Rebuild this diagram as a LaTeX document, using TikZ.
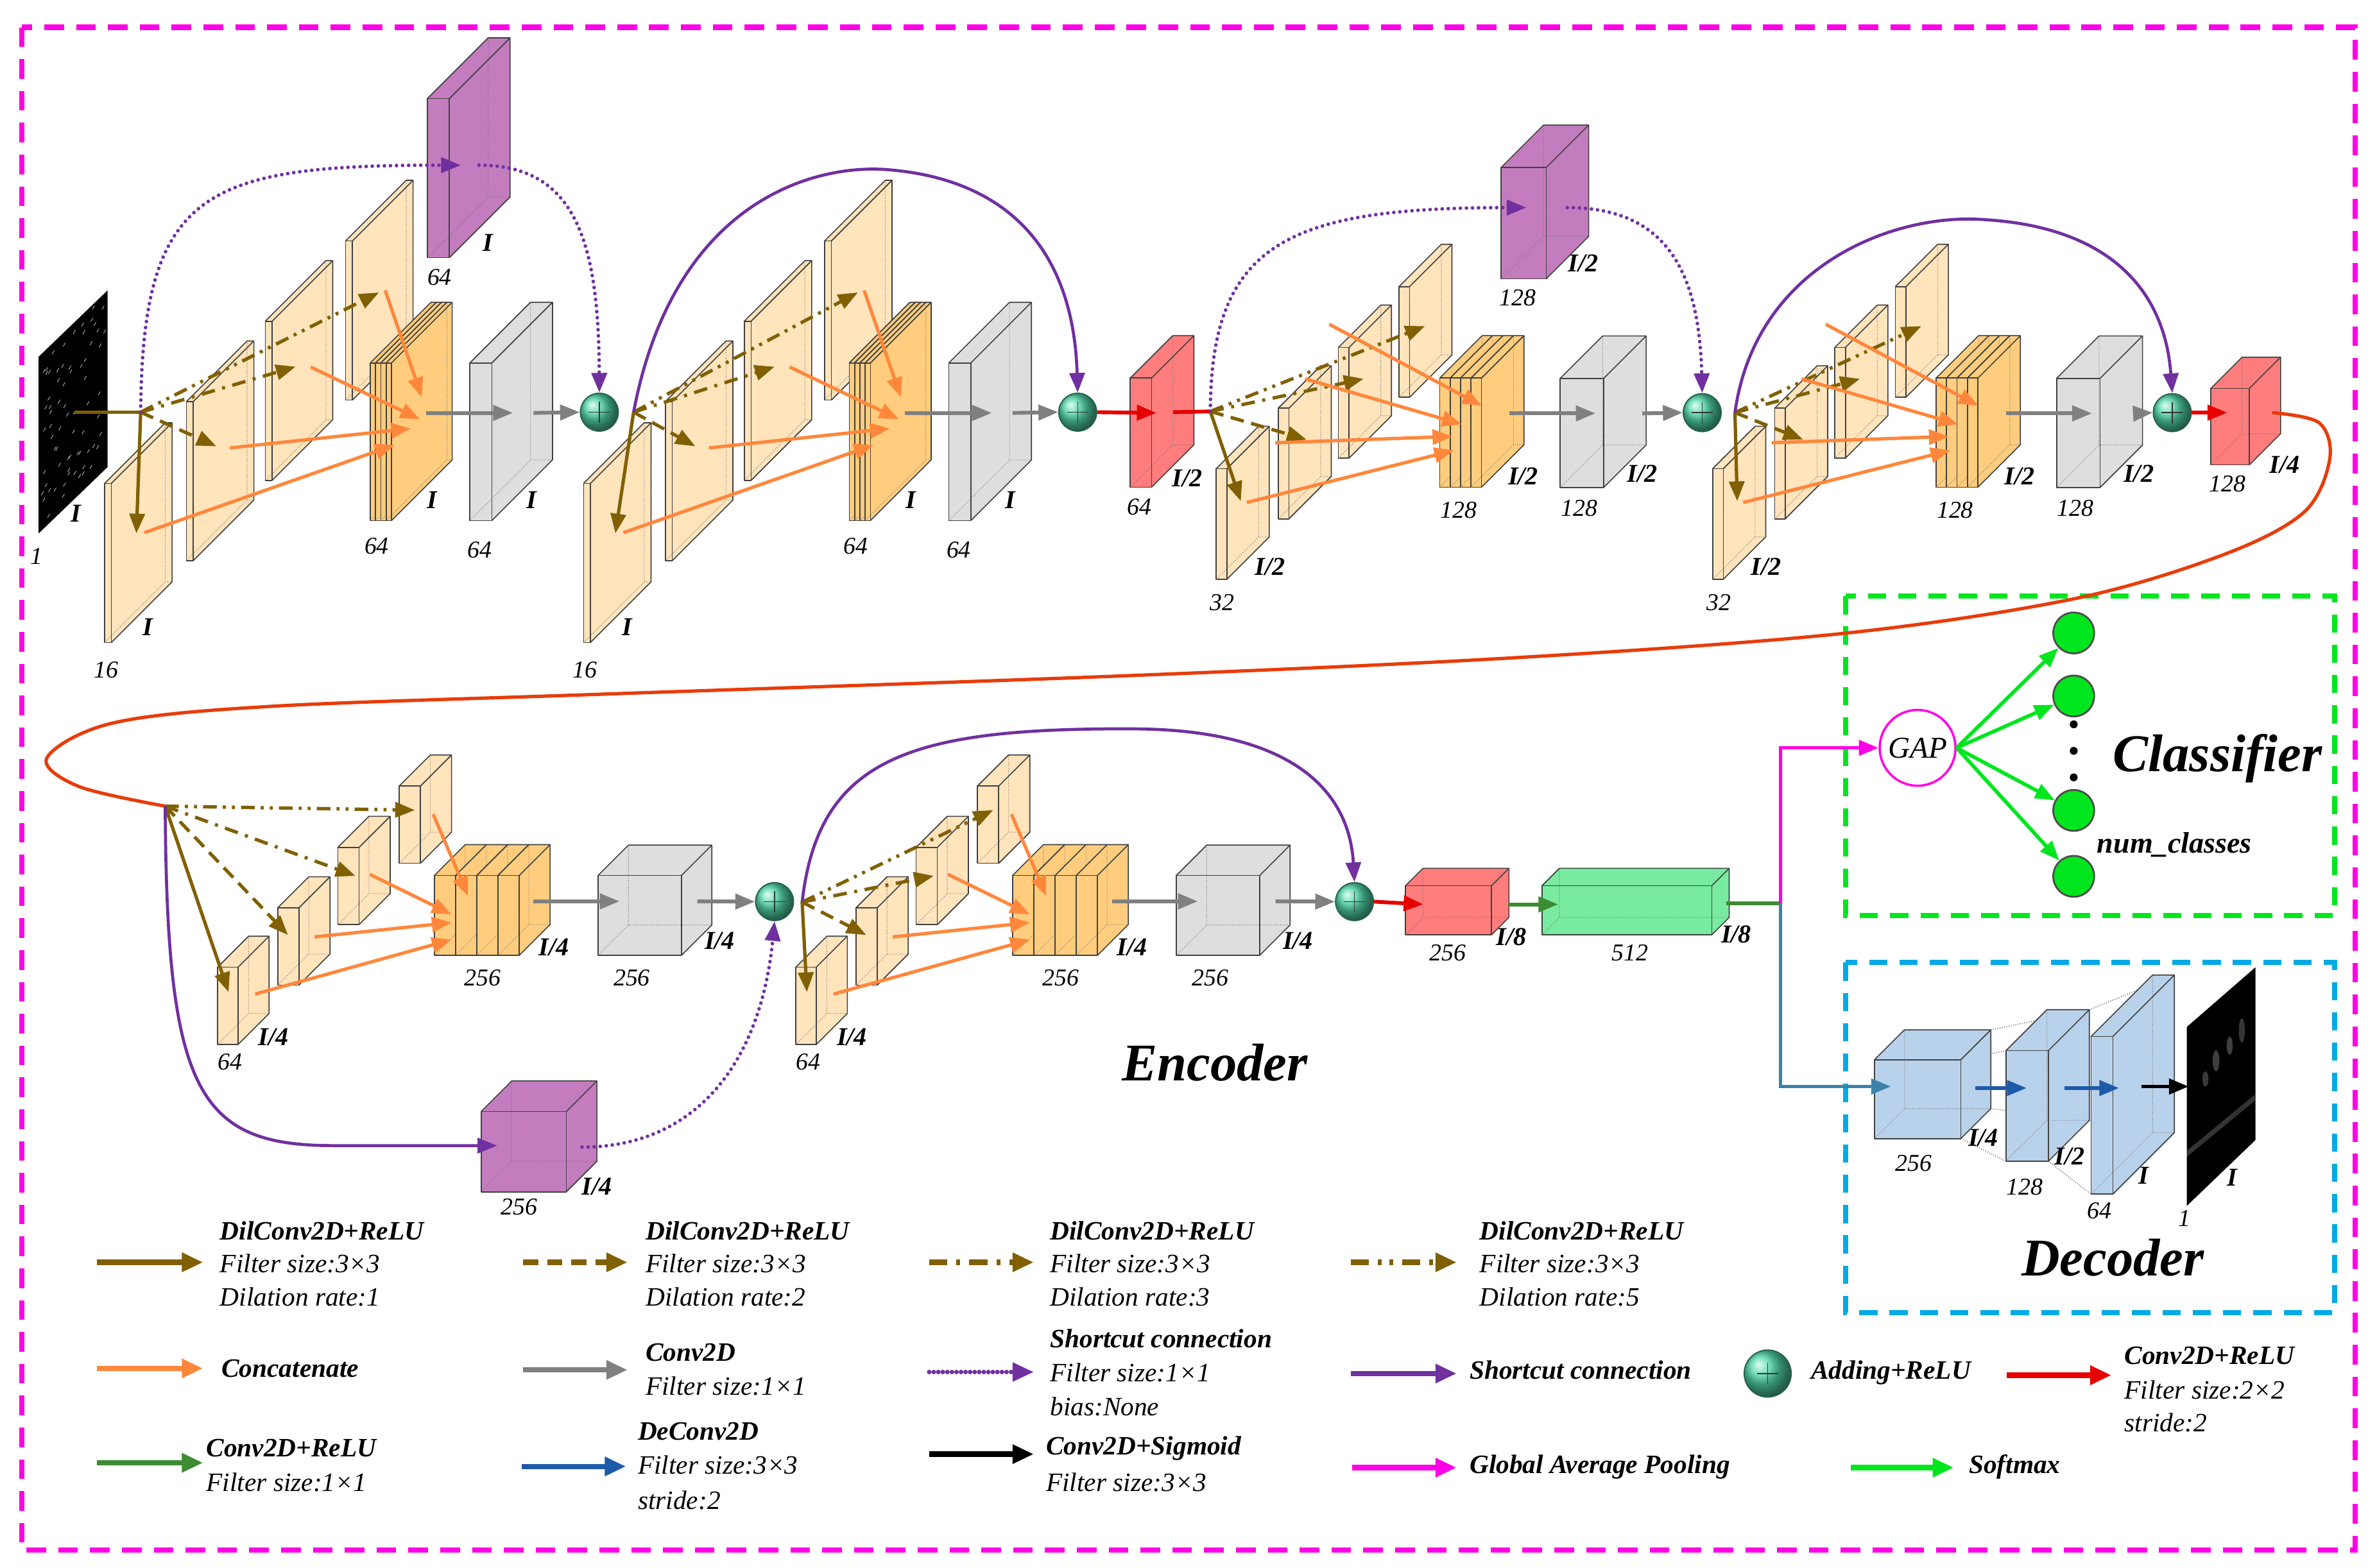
\documentclass[tikz,border=0pt]{standalone}
\usepackage{fontspec}
\setmainfont{Liberation Serif}
\usetikzlibrary{arrows.meta,shapes.geometric}
\definecolor{cOlive}{RGB}{128,96,0}
\definecolor{cOrange}{RGB}{255,135,60}
\definecolor{cGray}{RGB}{128,128,128}
\definecolor{cPurple}{RGB}{112,48,160}
\definecolor{cRed}{RGB}{230,0,0}
\definecolor{cRedLine}{RGB}{232,60,10}
\definecolor{cDGreen}{RGB}{60,140,50}
\definecolor{cBlue}{RGB}{30,90,170}
\definecolor{cSteel}{RGB}{60,130,170}
\definecolor{cMag}{RGB}{255,0,230}
\definecolor{cBGreen}{RGB}{0,230,30}
\definecolor{cCyan}{RGB}{0,170,230}
\definecolor{fSlab}{RGB}{255,228,188}
\definecolor{fConcat}{RGB}{255,205,125}
\definecolor{fGray}{RGB}{222,222,222}
\definecolor{fRed}{RGB}{255,125,125}
\definecolor{fPurple}{RGB}{195,125,190}
\definecolor{fGreen}{RGB}{120,235,160}
\definecolor{fBlue}{RGB}{185,210,235}
\definecolor{cTeal}{RGB}{80,215,170}
\tikzset{
 bxedge/.style={draw=black!75, line width=0.7pt, line join=round},
 bxhid/.style={draw=black!55, line width=0.45pt, densely dotted},
 ahd/.style={-{Triangle[length=13pt,width=10pt]}},
 ahl/.style={-{Triangle[length=14pt,width=12pt]}},
 dil1/.style={cOlive, line width=2.2pt, ahd},
 dil2/.style={dil1, dash pattern=on 9pt off 5pt},
 dil3/.style={dil1, dash pattern=on 9pt off 5pt on 2pt off 5pt},
 dil5/.style={dil1, dash pattern=on 9pt off 4pt on 2pt off 4pt on 2pt off 4pt},
 cat/.style={cOrange, line width=2.2pt, ahd},
 cvg/.style={cGray, line width=2.5pt, ahd},
 scs/.style={cPurple, line width=2pt, ahd},
 scd/.style={cPurple, line width=2.4pt, dash pattern=on 0pt off 4pt, line cap=round, ahd},
 redar/.style={cRed, line width=2.5pt, ahd},
 lbl/.style={font=\fontsize{16}{18}\selectfont\itshape, inner sep=0pt},
 lblb/.style={font=\fontsize{17}{19}\selectfont\bfseries\itshape, inner sep=0pt},
 lg/.style={font=\fontsize{17.5}{20}\selectfont\itshape, anchor=west, inner sep=0pt},
 lgb/.style={font=\fontsize{17.5}{20}\selectfont\bfseries\itshape, anchor=west, inner sep=0pt},
 ttl/.style={font=\fontsize{35}{40}\selectfont\bfseries\itshape, inner sep=0pt},
 addc/.style={circle, minimum size=25pt, inner sep=0pt, draw=black!55!cTeal, line width=0.8pt, shade, ball color=cTeal,
   path picture={\draw[black!80, line width=0.6pt] ([xshift=-7pt]path picture bounding box.center) -- ([xshift=7pt]path picture bounding box.center) ([yshift=-7pt]path picture bounding box.center) -- ([yshift=7pt]path picture bounding box.center);}},
 cls/.style={circle, minimum size=27pt, fill=cBGreen, draw=black!70, line width=1.2pt, inner sep=0pt},
 smx/.style={cBGreen, line width=2.4pt, ahd},
 proj/.style={black!70, line width=0.5pt, densely dotted},
}
% cuboid: x,y of front-bottom-left, width, height, depth, fill
\newcommand{\cuboidX}[6]{%
 \begin{scope}[shift={(#1,#2)}]
 \fill[#6] (0,0) -- (#3,0) -- ++(#5,-#5) -- ++(0,-#4) -- ++(-#3,0) -- (0,-#4) -- cycle;
 \draw[bxhid] (0,0) -- ++(#5,-#5) -- ++(#3,0) ++(-#3,0) -- ++(0,-#4);
 \draw[bxedge] (0,0) rectangle (#3,-#4);
 \draw[bxedge] (#3,0) -- ++(#5,-#5) -- ++(0,-#4) -- ++(-#3,0) -- (0,-#4);
 \draw[bxedge] (#3,-#4) -- ++(#5,-#5);
 \end{scope}}
% block of the first row (resolution I)
\newcommand{\RowOneBlock}[4]{%
 \begin{scope}[xshift=#2pt]
 \cuboidX{228}{264}{4.5}{105}{40}{fSlab}
 \cuboidX{175}{317}{4.5}{105}{40}{fSlab}
 \cuboidX{123}{370}{4.5}{105}{40}{fSlab}
 \cuboidX{69}{424}{4.5}{105}{40}{fSlab}
 \foreach \i in {0,1,2,3}{\cuboidX{244.3+3.5*\i}{343.5}{3.5}{104}{40}{fConcat}}
 \cuboidX{310}{343.5}{14.5}{104}{40}{fGray}
 \coordinate (#1s1) at (90,352);
 \coordinate (#1s2) at (142.7,294.5);
 \coordinate (#1s3) at (195,242);
 \coordinate (#1s4) at (250,193);
 \coordinate (#1o1) at (95.3,351.5); \coordinate (#1e1) at (260.4,293.6);
 \coordinate (#1o2) at (151.7,295.6); \coordinate (#1e2) at (271,282.8);
 \coordinate (#1o3) at (205,242.2); \coordinate (#1e3) at (277.1,276.7);
 \coordinate (#1o4) at (254.1,191.6); \coordinate (#1e4) at (278.3,262.1);
 \coordinate (#1g1) at (281,272.5); \coordinate (#1g2) at (338.3,272.5);
 \coordinate (#1g3) at (352,272.5);
 \node[lblb] (#1l1) at (97.7,414) {I};
 \node[lbl] (#1l2) at (70,442) {16};
 \node[lblb] (#1l3) at (285,330) {I};
 \node[lbl] (#1l4) at (248.5,360.5) {64};
 \node[lblb] (#1l5) at (350.5,330) {I};
 \node[lbl] (#1l6) at (316.5,363) {64};
 \end{scope}
 \draw[dil1] (#3) -- (#1s1);
 \draw[dil2] (#3) -- (#1s2);
 \draw[dil3] (#3) -- (#1s3);
 \draw[dil5] (#3) -- (#1s4);
 \foreach \k in {1,2,3,4}{\draw[cat] (#1o\k) -- (#1e\k);}
 \draw[cvg] (#1g1) -- (#1g2);
 \draw[cvg] (#1g3) -- (#4.west);
}
% block of the first row (resolution I/2)
\newcommand{\RowTwoBlock}[4]{%
 \begin{scope}[xshift=#2pt]
 \cuboidX{922.9}{262.2}{7}{73}{28}{fSlab}
 \cuboidX{883}{302.3}{7}{73}{28}{fSlab}
 \cuboidX{843.3}{342.4}{7}{73}{28}{fSlab}
 \cuboidX{802.4}{382.3}{7}{73}{28}{fSlab}
 \foreach \i in {0,1,2,3}{\cuboidX{949.8+6.9*\i}{321.5}{6.9}{72}{28}{fConcat}}
 \cuboidX{1029.3}{321.7}{28.7}{72}{28}{fGray}
 \coordinate (#1s1) at (818.6,330.7);
 \coordinate (#1s2) at (862,290.1);
 \coordinate (#1s3) at (899.6,250);
 \coordinate (#1s4) at (940.1,215.2);
 \coordinate (#1o1) at (822.5,331.6); \coordinate (#1e1) at (959.2,297.2);
 \coordinate (#1o2) at (841.3,292.2); \coordinate (#1e2) at (958.1,288);
 \coordinate (#1o3) at (861,250); \coordinate (#1e3) at (964.4,280);
 \coordinate (#1o4) at (877,214); \coordinate (#1e4) at (977.6,267.8);
 \coordinate (#1g1) at (995.8,272.8); \coordinate (#1g2) at (1052.6,272.8);
 \coordinate (#1g3) at (1083.5,272.8);
 \node[lblb] (#1l1) at (837.8,374.2) {I/2};
 \node[lbl] (#1l2) at (806.4,397.6) {32};
 \node[lblb] (#1l3) at (1004.9,314.5) {I/2};
 \node[lbl] (#1l4) at (962.3,336.7) {128};
 \node[lblb] (#1l5) at (1083.5,312.5) {I/2};
 \node[lbl] (#1l6) at (1041.8,335.5) {128};
 \end{scope}
 \draw[dil1] (#3) -- (#1s1);
 \draw[dil2] (#3) -- (#1s2);
 \draw[dil3] (#3) -- (#1s3);
 \draw[dil5] (#3) -- (#1s4);
 \foreach \k in {1,2,3,4}{\draw[cat] (#1o\k) -- (#1e\k);}
 \draw[cvg] (#1g1) -- (#1g2);
 \draw[cvg] (#1g3) -- (#4.west);
}
% block of the second row (resolution I/4)
\newcommand{\RowThreeBlock}[4]{%
 \begin{scope}[xshift=#2pt]
 \cuboidX{263.4}{569.7}{14}{51}{20.5}{fSlab}
 \cuboidX{222.9}{610.2}{14}{51}{20.5}{fSlab}
 \cuboidX{183.2}{650.1}{14}{51}{20.5}{fSlab}
 \cuboidX{143.5}{689.3}{13.5}{51}{20.5}{fSlab}
 \foreach \i in {0,1,2,3}{\cuboidX{286.6+14*\i}{630.4}{14}{52.7}{20.3}{fConcat}}
 \cuboidX{394.6}{630.4}{55}{52.7}{20}{fGray}
 \coordinate (#1s1) at (150.8,654.7);
 \coordinate (#1s2) at (190,617);
 \coordinate (#1s3) at (234.5,578);
 \coordinate (#1s4) at (273.7,534.6);
 \coordinate (#1o1) at (168.4,656); \coordinate (#1e1) at (297.9,620.1);
 \coordinate (#1o2) at (207.5,618.3); \coordinate (#1e2) at (297.9,608.8);
 \coordinate (#1o3) at (244,577); \coordinate (#1e3) at (297.9,603.4);
 \coordinate (#1o4) at (285.8,537.3); \coordinate (#1e4) at (308.8,591.3);
 \coordinate (#1g1) at (352,594.8); \coordinate (#1g2) at (408.7,594.8);
 \coordinate (#1g3) at (460,594.8);
 \node[lblb] (#1l1) at (180.5,684.4) {I/4};
 \node[lbl] (#1l2) at (151.6,700.6) {64};
 \node[lblb] (#1l3) at (365.5,625) {I/4};
 \node[lbl] (#1l4) at (318.2,645.3) {256};
 \node[lblb] (#1l5) at (474.8,621) {I/4};
 \node[lbl] (#1l6) at (416.8,645.3) {256};
 \end{scope}
 \draw[dil1] (#3) -- (#1s1);
 \draw[dil2] (#3) -- (#1s2);
 \draw[dil3] (#3) -- (#1s3);
 \draw[dil5] (#3) -- (#1s4);
 \foreach \k in {1,2,3,4}{\draw[cat] (#1o\k) -- (#1e\k);}
 \draw[cvg] (#1g1) -- (#1g2);
 \draw[cvg] (#1g3) -- (#4.west);
}
\begin{document}
\begin{tikzpicture}[x=1pt,y=-1pt]
\useasboundingbox (0,0) rectangle (1568.2,1034.7);
\fill[white] (0,0) rectangle (1568.2,1034.7);

% ---------- frames ----------
\draw[cMag, line width=3.5pt, dash pattern=on 13pt off 8pt] (14.4,18) rectangle (1553.8,1023);
\draw[cBGreen, line width=3.5pt, dash pattern=on 12pt off 8pt] (1217.7,393.4) rectangle (1540.3,604.1);
\draw[cCyan, line width=3.5pt, dash pattern=on 12pt off 8pt] (1217.7,635.2) rectangle (1540.3,866.3);

% ---------- input image ----------
\fill[black] (25.5,352) -- (25.5,235.4) -- (71,191.6) -- (71,308.2) -- cycle;
\pgfmathsetseed{7}
\foreach \n in {1,...,70}{
 \pgfmathsetmacro\uu{rnd}\pgfmathsetmacro\vv{rnd}
 \draw[gray!30, line width=0.3pt] ({27+42*\uu},{348-110*\vv-42*\uu}) -- ++(1.5,-2.5);
}
\coordinate (inA) at (49,272);
\node[lblb] (inl1) at (50.3,339) {I};
\node[lbl] (inl2) at (24,367) {1};

% ---------- circles of the encoder ----------
\node[addc] (cA) at (395.4,272) {};
\node[addc] (cB) at (711,272) {};
\node[addc] (cC) at (1123,272.3) {};
\node[addc] (cD) at (1433.1,272.3) {};
\node[addc] (cE) at (511,595) {};
\node[addc] (cF) at (893.6,595) {};

\coordinate (pA) at (92.8,272);
\coordinate (pB) at (418,272);
\coordinate (pC) at (798.5,271.5);
\coordinate (pD) at (1144.6,272.3);
\coordinate (pE) at (109,532);
\coordinate (pF) at (529.2,595.3);

% ---------- first row ----------
\draw[cOlive, line width=2.2pt] (inA) -- (pA);
\cuboidX{282}{170}{14.5}{105}{40}{fPurple}
\node[lblb] (puAl1) at (322,160) {I};
\node[lbl] (puAl2) at (290,183) {64};
\RowOneBlock{bA}{0}{pA}{cA}
\RowOneBlock{bB}{316}{pB}{cB}
\coordinate (sA1) at (304,109);
\coordinate (sA2) at (316,109);
\draw[scd] (pA) .. controls (94,125) and (135,109) .. (sA1);
\draw[scd] (sA2) .. controls (380,109) and (395,160) .. (cA.north);
\coordinate (mB) at (586,112);
\draw[scs] (pB) .. controls (445,130) and (540,108) .. (mB) .. controls (660,118) and (708,160) .. (cB.north);

% red down-sampling 1
\cuboidX{745.7}{321.5}{14}{72}{28}{fRed}
\node[lblb] (rAl1) at (783.2,315.6) {I/2};
\node[lbl] (rAl2) at (751.8,334.7) {64};
\coordinate (rA) at (763,272.5);
\coordinate (rB) at (774,272);
\draw[redar] (cB.east) -- (rA);
\draw[cRed, line width=2.5pt] (rB) -- (pC);

\cuboidX{990.4}{184}{29.7}{73.5}{28}{fPurple}
\node[lblb] (puCl1) at (1044.5,173.7) {I/2};
\node[lbl] (puCl2) at (1001.2,196.6) {128};
\RowTwoBlock{bC}{0}{pC}{cC}
\RowTwoBlock{bD}{327.5}{pD}{cD}
\coordinate (sC1) at (1007,137);
\coordinate (sC2) at (1034,137);
\draw[scd] (pC) .. controls (799,160) and (850,137) .. (sC1);
\draw[scd] (sC2) .. controls (1100,137) and (1121,180) .. (cC.north);
\coordinate (mD) at (1310,145);
\draw[scs] (pD) .. controls (1158,175) and (1250,140) .. (mD) .. controls (1390,150) and (1428,190) .. (cD.north);

% red down-sampling 2
\cuboidX{1458.6}{306.8}{25.4}{50.5}{20.6}{fRed}
\node[lblb] (rCl1) at (1507.3,306.8) {I/4};
\node[lbl] (rCl2) at (1469.4,319.4) {128};
\coordinate (rC0) at (1469.4,272.3);
\draw[redar] (cD.east) -- (rC0);
\coordinate (rC) at (1499,272.3);
\draw[cRedLine, line width=2.2pt] plot[smooth, tension=0.55] coordinates {(rC) (1530,279) (1537,303) (1520,338) (1467,366) (1369,395) (1216,418) (1000,434) (741,446) (400,458) (181,466) (75,477) (31,500) (52,519) (pE)};

% ---------- second row ----------
\cuboidX{317.4}{786.5}{56.2}{53}{20.2}{fPurple}
\node[lblb] (puEl1) at (393.8,783) {I/4};
\node[lbl] (puEl2) at (342.5,796.5) {256};
\RowThreeBlock{bE}{0}{pE}{cE}
\RowThreeBlock{bF}{381.5}{pF}{cF}
\coordinate (sE1) at (328,756);
\coordinate (sE2) at (384,757);
\draw[scs] (pE) .. controls (110,720) and (130,756) .. (220,756) -- (sE1);
\draw[scd] (sE2) .. controls (460,757) and (502,700) .. (cE.south);
\coordinate (mF) at (750,481);
\draw[scs] (pF) .. controls (540,500) and (600,480) .. (mF) .. controls (850,482) and (890,520) .. (cF.north);

% bottleneck
\cuboidX{927.3}{616.9}{56.7}{32.4}{11.5}{fRed}
\node[lblb] (rEl1) at (997,618.2) {I/8};
\node[lbl] (rEl2) at (955.2,628.7) {256};
\coordinate (rE) at (939,596.8);
\draw[redar] (cF.east) -- (rE);
\cuboidX{1017.3}{616.9}{112}{32.4}{11.5}{fGreen}
\node[lblb] (gBl1) at (1145.5,616.5) {I/8};
\node[lbl] (gBl2) at (1075.3,628.7) {512};
\coordinate (gA) at (994.8,596.8);
\coordinate (gB) at (1028,596.8);
\draw[cDGreen, line width=2.5pt, ahd] (gA) -- (gB);
\coordinate (gC) at (1138.8,596.3);
\coordinate (J) at (1174.7,596.3);
\draw[cDGreen, line width=2.5pt] (gC) -- (J);

\node[ttl] (enc) at (801.4,701.1) {Encoder};

% ---------- classifier ----------
\node[circle, draw=cMag, line width=1.5pt, minimum size=50pt, inner sep=0pt, font=\fontsize{20}{22}\selectfont\itshape] (gap) at (1265.1,493.5) {GAP};
\draw[cMag, line width=2.4pt, ahd] (J) |- (gap.west);
\node[cls] (k1) at (1368.1,417.7) {};
\node[cls] (k2) at (1368.1,459.3) {};
\node[cls] (k3) at (1368.1,534.8) {};
\node[cls] (k4) at (1368.1,578.3) {};
\foreach \k in {1,2,3,4}{\draw[smx] (gap.east) -- (k\k);}
\foreach \yy [count=\c] in {478,495.5,513}{\fill[black] (1368.1,\yy) circle (2.6pt) coordinate (dot\c);}
\node[ttl] (clf) at (1463,500.6) {Classifier};
\node[font=\fontsize{19.5}{22}\selectfont\bfseries\itshape, inner sep=0pt] (ncl) at (1434.5,557.5) {num\_classes};

% ---------- decoder ----------
\coordinate (b1btr) at (1313.4,679.6); \coordinate (b1fbr) at (1293.6,751.4);
\coordinate (b1bbr) at (1313.4,731.6); \coordinate (b1ftr) at (1293.6,699.4);
\coordinate (b2btr) at (1378.4,666.3); \coordinate (b2fbl) at (1323.4,766.3);
\coordinate (b2bbr) at (1378.4,739.3); \coordinate (b2ftl) at (1323.4,693.3);
\coordinate (b2fbr) at (1351.4,766.3); \coordinate (b2ftr) at (1351.4,693.3);
\coordinate (b3btr) at (1434.5,643.4); \coordinate (b3fbl) at (1379.5,788);
\coordinate (b3bbr) at (1434.5,747.4); \coordinate (b3ftl) at (1379.5,684);
\draw[proj] (b1btr) -- (b2btr) (b1fbr) -- (b2fbl) (b1bbr) -- (b2bbr) (b1ftr) -- (b2ftl);
\draw[proj] (b2btr) -- (b3btr) (b2fbr) -- (b3fbl) (b2bbr) -- (b3bbr) (b2ftr) -- (b3ftl);
\cuboidX{1236.6}{751.4}{57}{52}{19.8}{fBlue}
\cuboidX{1323.4}{766.3}{28}{73}{27}{fBlue}
\cuboidX{1379.5}{788}{14.4}{104}{40.6}{fBlue}
% output image
\fill[black] (1442.7,795.8) -- (1442.7,677.7) -- (1488,638.3) -- (1488,752.3) -- cycle;
\begin{scope}
\clip (1442.7,795.8) -- (1442.7,677.7) -- (1488,638.3) -- (1488,752.3) -- cycle;
\fill[gray!60, opacity=0.35] (1462,700) ellipse (2.2pt and 7pt);
\fill[gray!60, opacity=0.35] (1471,690) ellipse (2pt and 6pt);
\fill[gray!60, opacity=0.3] (1479,680) ellipse (2pt and 8pt);
\fill[gray!50, opacity=0.3] (1455,712) ellipse (2pt and 5pt);
\fill[gray!40, opacity=0.25] (1442,760) -- (1488,722) -- (1488,726) -- (1442,764) -- cycle;
\end{scope}
\coordinate (d1in) at (1247.5,717);
\draw[cSteel, line width=2.4pt, ahd] (J) |- (d1in);
\coordinate (d1a) at (1303,718); \coordinate (d1b) at (1337,718);
\coordinate (d2a) at (1362,718); \coordinate (d2b) at (1398,718);
\coordinate (d3a) at (1413,717); \coordinate (d3b) at (1444,717);
\draw[cBlue, line width=2.4pt, ahd] (d1a) -- (d1b);
\draw[cBlue, line width=2.4pt, ahd] (d2a) -- (d2b);
\draw[black, line width=2.4pt, ahd] (d3a) -- (d3b);
\node[lbl] (dl1) at (1262.4,767.8) {256};
\node[lblb] (dl2) at (1308.5,750.7) {I/4};
\node[lbl] (dl3) at (1335.6,783.3) {128};
\node[lblb] (dl4) at (1365.4,763.2) {I/2};
\node[lbl] (dl5) at (1385.2,798.9) {64};
\node[lblb] (dl6) at (1414.2,775.6) {I};
\node[lblb] (dl7) at (1472.5,777.1) {I};
\node[lbl] (dl8) at (1441,804) {1};
\node[ttl] (dec) at (1393.9,830) {Decoder};

% ---------- legend ----------
\coordinate (L1a) at (64,833); \coordinate (L1b) at (134,833);
\draw[cOlive, line width=3.5pt, ahl] (L1a) -- (L1b);
\node[lgb] (L1t1) at (145,812) {DilConv2D+ReLU};
\node[lg] (L1t2) at (145,834) {Filter size:3×3};
\node[lg] (L1t3) at (145,856) {Dilation rate:1};

\coordinate (L2a) at (345,833); \coordinate (L2b) at (414,833);
\draw[cOlive, line width=3.5pt, dash pattern=on 10pt off 6pt, ahl] (L2a) -- (L2b);
\node[lgb] (L2t1) at (425.8,812) {DilConv2D+ReLU};
\node[lg] (L2t2) at (425.8,834) {Filter size:3×3};
\node[lg] (L2t3) at (425.8,856) {Dilation rate:2};

\coordinate (L3a) at (613,833); \coordinate (L3b) at (682,833);
\draw[cOlive, line width=3.5pt, dash pattern=on 12pt off 6pt on 2.5pt off 6pt, ahl] (L3a) -- (L3b);
\node[lgb] (L3t1) at (692.6,812) {DilConv2D+ReLU};
\node[lg] (L3t2) at (692.6,834) {Filter size:3×3};
\node[lg] (L3t3) at (692.6,856) {Dilation rate:3};

\coordinate (L4a) at (891,833); \coordinate (L4b) at (961,833);
\draw[cOlive, line width=3.5pt, dash pattern=on 12pt off 6pt on 2.5pt off 5pt on 2.5pt off 6pt, ahl] (L4a) -- (L4b);
\node[lgb] (L4t1) at (976,812) {DilConv2D+ReLU};
\node[lg] (L4t2) at (976,834) {Filter size:3×3};
\node[lg] (L4t3) at (976,856) {Dilation rate:5};

\coordinate (L5a) at (64,903); \coordinate (L5b) at (134,903);
\draw[cOrange, line width=3.5pt, ahl] (L5a) -- (L5b);
\node[lgb] (L5t1) at (146,903) {Concatenate};

\coordinate (L6a) at (345,904); \coordinate (L6b) at (414,904);
\draw[cGray, line width=3.5pt, ahl] (L6a) -- (L6b);
\node[lgb] (L6t1) at (425.8,892.3) {Conv2D};
\node[lg] (L6t2) at (425.8,914.7) {Filter size:1×1};

\coordinate (L7a) at (613,905.4); \coordinate (L7b) at (682,905.4);
\draw[cPurple, line width=3pt, dash pattern=on 0pt off 3pt, line cap=round, ahl] (L7a) -- (L7b);
\node[lgb] (L7t1) at (692.6,883.5) {Shortcut connection};
\node[lg] (L7t2) at (692.6,906) {Filter size:1×1};
\node[lg] (L7t3) at (692.6,928.4) {bias:None};

\coordinate (L8a) at (891,906.4); \coordinate (L8b) at (961,906.4);
\draw[cPurple, line width=3.5pt, ahl] (L8a) -- (L8b);
\node[lgb] (L8t1) at (969.4,904) {Shortcut connection};

\node[addc, minimum size=31pt] (L9c) at (1166.2,906.4) {};
\node[lgb] (L9t1) at (1194.7,906) {Adding+ReLU};

\coordinate (L10a) at (1324,907.5); \coordinate (L10b) at (1393,907.5);
\draw[cRed, line width=3.5pt, ahl] (L10a) -- (L10b);
\node[lgb] (L10t1) at (1401.4,894.7) {Conv2D+ReLU};
\node[lg] (L10t2) at (1401.4,917.1) {Filter size:2×2};
\node[lg] (L10t3) at (1401.4,938.8) {stride:2};

\coordinate (L11a) at (64,965.3); \coordinate (L11b) at (134,965.3);
\draw[cDGreen, line width=3.5pt, ahl] (L11a) -- (L11b);
\node[lgb] (L11t1) at (136,955.6) {Conv2D+ReLU};
\node[lg] (L11t2) at (136,978) {Filter size:1×1};

\coordinate (L12a) at (344,967.7); \coordinate (L12b) at (413,967.7);
\draw[cBlue, line width=3.5pt, ahl] (L12a) -- (L12b);
\node[lgb] (L12t1) at (420.7,944.4) {DeConv2D};
\node[lg] (L12t2) at (420.7,966.9) {Filter size:3×3};
\node[lg] (L12t3) at (420.7,990.1) {stride:2};

\coordinate (L13a) at (613,959.6); \coordinate (L13b) at (682,959.6);
\draw[black, line width=3.5pt, ahl] (L13a) -- (L13b);
\node[lgb] (L13t1) at (690,955.6) {Conv2D+Sigmoid};
\node[lg] (L13t2) at (690,978) {Filter size:3×3};

\coordinate (L14a) at (892,968.5); \coordinate (L14b) at (961,968.5);
\draw[cMag, line width=3.5pt, ahl] (L14a) -- (L14b);
\node[lgb] (L14t1) at (969.4,968) {Global Average Pooling};

\coordinate (L15a) at (1221,968.5); \coordinate (L15b) at (1289,968.5);
\draw[cBGreen, line width=3.5pt, ahl] (L15a) -- (L15b);
\node[lgb] (L15t1) at (1298.8,968) {Softmax};
\end{tikzpicture}
\end{document}
